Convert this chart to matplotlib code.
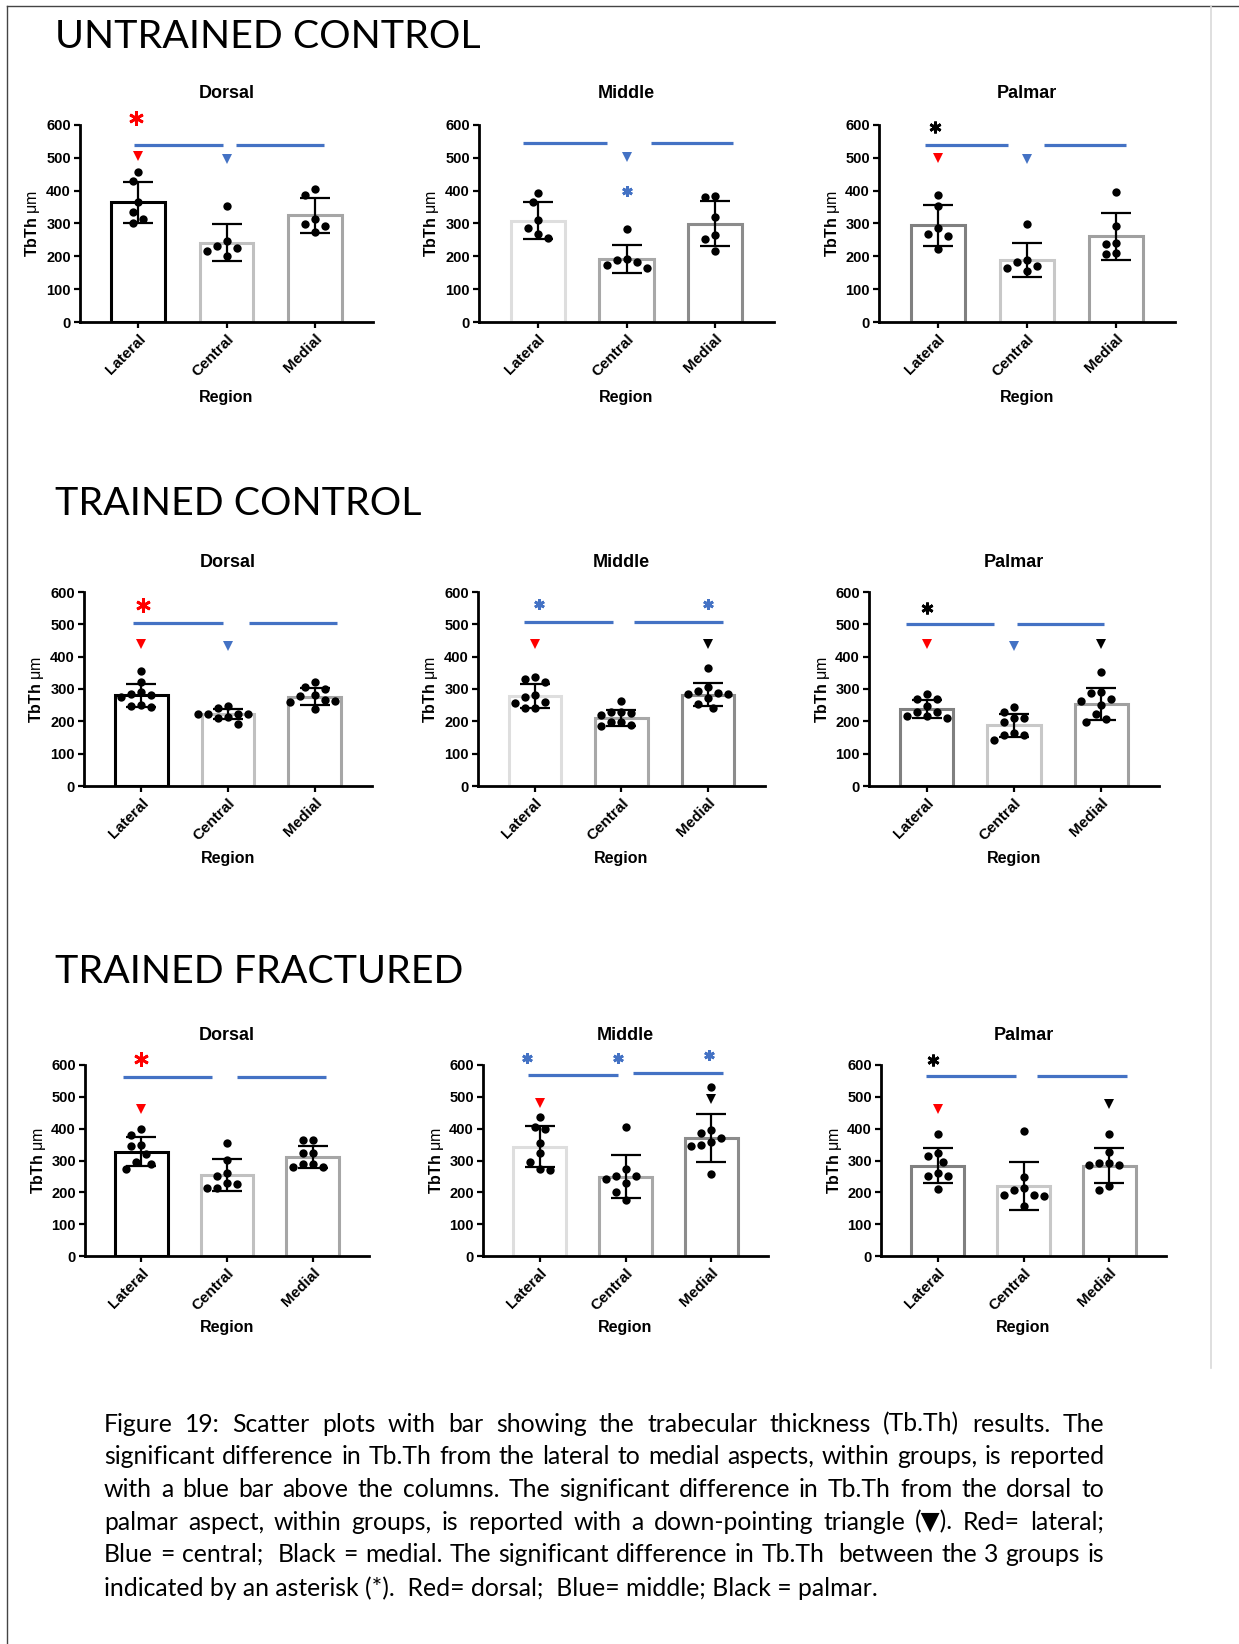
import matplotlib
matplotlib.use("Agg")
import matplotlib.pyplot as plt
from matplotlib.lines import Line2D
import numpy as np

# ── canvas ──
W, H, DPI = 1239, 1644, 100

plt.rcParams["font.family"] = ["Liberation Sans", "DejaVu Sans"]
plt.rcParams["font.weight"] = "bold"
plt.rcParams["mathtext.fontset"] = "custom"
plt.rcParams["mathtext.bf"] = "Liberation Sans:bold"
plt.rcParams["mathtext.rm"] = "Liberation Sans"

# ── data (TbTh, µm) ──
GROUPS  = ["UNTRAINED CONTROL", "TRAINED CONTROL", "TRAINED FRACTURED"]
ASPECTS = ["Dorsal", "Middle", "Palmar"]
REGIONS = ["Lateral", "Central", "Medial"]

# mean per aspect (rows) x region (cols)
UC_MEAN = [[364, 242, 325], [308, 193, 299], [294, 188, 261]]
UC_SD   = [[63, 55, 53], [56, 43, 69], [62, 52, 71]]
UC_PTS  = [
    [[457, 429, 364, 334, 313, 302], [354, 246, 232, 224, 217, 200], [405, 388, 315, 298, 292, 275]],
    [[393, 366, 310, 286, 267, 256], [284, 191, 188, 183, 175, 163], [383, 381, 320, 264, 252, 217]],
    [[387, 354, 285, 267, 262, 223], [298, 188, 182, 170, 165, 155], [397, 293, 242, 239, 211, 208]],
]

TC_MEAN = [[281, 222, 276], [279, 211, 282], [238, 188, 253]]
TC_SD   = [[36, 15, 27], [37, 25, 36], [27, 36, 50]]
TC_PTS  = [
    [[357, 321, 290, 284, 281, 274, 252, 248, 243], [248, 240, 224, 224, 222, 222, 212, 209, 193],
     [323, 307, 300, 281, 279, 266, 264, 260, 238]],
    [[336, 331, 323, 281, 274, 261, 257, 241, 240], [264, 230, 228, 225, 219, 199, 197, 189, 186],
     [365, 305, 295, 288, 283, 283, 271, 253, 241]],
    [[284, 269, 269, 248, 230, 228, 217, 217, 209], [245, 229, 211, 209, 198, 164, 159, 159, 143],
     [354, 292, 287, 270, 264, 250, 222, 206, 199]],
]

TF_MEAN = [[328, 254, 312], [343, 249, 371], [284, 220, 284]]
TF_SD   = [[45, 50, 35], [64, 67, 76], [55, 74, 56]]
TF_PTS  = [
    [[399, 380, 348, 345, 319, 296, 288, 272], [354, 301, 262, 252, 230, 226, 215, 214],
     [364, 364, 324, 322, 288, 288, 280, 280]],
    [[437, 406, 398, 354, 322, 296, 273, 270], [404, 272, 252, 252, 241, 228, 201, 175],
     [530, 395, 387, 371, 357, 350, 345, 257]],
    [[383, 325, 313, 296, 261, 252, 252, 209], [393, 249, 215, 208, 193, 191, 188, 157],
     [382, 327, 293, 291, 285, 285, 219, 207]],
]

MEANS = [UC_MEAN, TC_MEAN, TF_MEAN]
SDS   = [UC_SD, TC_SD, TF_SD]
PTS   = [UC_PTS, TC_PTS, TF_PTS]

CAPTION = [
    "Figure 19: Scatter plots with bar showing the trabecular thickness (Tb.Th) results. The",
    "significant difference in Tb.Th from the lateral to medial aspects, within groups, is reported",
    "with a blue bar above the columns. The significant difference in Tb.Th from the dorsal to",
    "palmar aspect, within groups, is reported with a down-pointing triangle (\u25BC). Red= lateral;",
    "Blue = central;  Black = medial. The significant difference in Tb.Th  between the 3 groups is",
    "indicated by an asterisk (*).  Red= dorsal;  Blue= middle; Black = palmar.",
]

# ── significance marks (x in category units, y in µm) ──
RED, BLUE, BLACK = "#ff0000", "#4472c4", "#000000"
SIG_LINES = [
    [[(-0.05, 0.96, 538), (1.11, 2.11, 538)], [(-0.16, 0.78, 545), (1.28, 2.20, 545)],
     [(-0.14, 0.79, 538), (1.19, 2.11, 538)]],
    [[(-0.09, 0.94, 504), (1.24, 2.26, 504)], [(-0.13, 0.90, 507), (1.14, 2.17, 507)],
     [(-0.24, 0.77, 501), (1.03, 2.03, 501)]],
    [[(-0.21, 0.83, 561), (1.12, 2.16, 561)], [(-0.13, 0.91, 569), (1.09, 2.13, 574)],
     [(-0.13, 0.91, 565), (1.16, 2.20, 565)]],
]
SIG_TRI = [
    [[(0, 505, RED), (1, 496, BLUE)], [(1, 503, BLUE)], [(0, 498, RED), (1, 496, BLUE)]],
    [[(0, 440, RED), (1, 433, BLUE)], [(0, 440, RED), (2, 440, BLACK)],
     [(0, 439, RED), (1, 434, BLUE), (2, 439, BLACK)]],
    [[(0, 462, RED)], [(0, 482, RED), (2, 492, BLACK)], [(0, 462, RED), (2, 479, BLACK)]],
]
SIG_AST = [
    [[(-0.03, 622, RED)], [(1.0, 399, BLUE)], [(-0.03, 595, BLACK)]],
    [[(0.02, 559, RED)], [(0.05, 562, BLUE), (2.0, 562, BLUE)], [(0.0, 550, BLACK)]],
    [[(0.0, 619, RED)], [(-0.15, 621, BLUE), (0.91, 621, BLUE), (1.97, 632, BLUE)], [(-0.05, 616, BLACK)]],
]
AST_SIZE = {RED: 10.5, BLUE: 7.5, BLACK: 8.5}

# bar outline colours per aspect (Lateral, Central, Medial)
EDGE = [["#000000", "#c0c0c0", "#a6a6a6"],
        ["#dedede", "#a8a8a8", "#8c8c8c"],
        ["#808080", "#c8c8c8", "#a0a0a0"]]

# ── layout in pixels ──
ROW_Y   = [(125, 322), (592, 786), (1065, 1256)]          # y of 600 and of 0
COL_X   = [[(80, 373), (479, 774), (879, 1175)],
           [(84, 372), (478, 765), (869, 1159)],
           [(85, 369), (483, 768), (881, 1166)]]
TITLE_Y  = [93, 562, 1035]
REGION_Y = [397, 858, 1327]
HEAD_Y   = [37, 504, 972]
XLIM = (-0.66, 2.66)


def fx(px):
    return px / W


def fy(py):
    return 1 - py / H


def swarm(vals, xpx, ypx, d=10.0, step=5.0):
    """simple beeswarm offsets (category units)"""
    vals = np.asarray(vals, float)
    out = np.zeros(len(vals))
    placed = []
    cands = [0.0] + [s * j * step for j in range(1, 12) for s in (-1, 1)]
    for i in np.argsort(-vals, kind="stable"):
        y = vals[i] * ypx
        for c in cands:
            if all((c - px) ** 2 + (y - py) ** 2 >= d * d for px, py in placed):
                break
        placed.append((c, y))
        out[i] = c / xpx
    return out


fig = plt.figure(figsize=(W / DPI, H / DPI), dpi=DPI)
fig.patch.set_facecolor("white")

# page frame
fig.add_artist(Line2D([fx(7), fx(7)], [fy(6), fy(H)], color="#444444", lw=1.0))
fig.add_artist(Line2D([fx(7), fx(W)], [fy(6), fy(6)], color="#444444", lw=1.0))
fig.add_artist(Line2D([fx(1211), fx(1211)], [fy(6), fy(1368)], color="#d9d9d9", lw=1.2))

for g in range(3):
    top, bot = ROW_Y[g]
    for a in range(3):
        left, right = COL_X[g][a]
        ax = fig.add_axes([fx(left), fy(bot), (right - left) / W, (bot - top) / H])
        xpx = (right - left) / (XLIM[1] - XLIM[0])
        ypx = (bot - top) / 600.0
        x = np.arange(3)

        ax.bar(x, MEANS[g][a], width=0.61, color="white", edgecolor=EDGE[a],
               linewidth=2.2, zorder=1)
        for r in range(3):
            offs = swarm(PTS[g][a][r], xpx, ypx)
            ax.plot(r + offs, PTS[g][a][r], "o", color="black", ms=6.0, mew=0,
                    zorder=3, clip_on=False)
        ax.errorbar(x, MEANS[g][a], yerr=SDS[g][a], fmt="none", ecolor="black",
                    elinewidth=1.6, capsize=10.5, capthick=1.6, zorder=4)

        for x0, x1, yv in SIG_LINES[g][a]:
            ax.plot([x0, x1], [yv, yv], color=BLUE, lw=2.3, solid_capstyle="butt",
                    clip_on=False, zorder=5)
        for xv, yv, c in SIG_TRI[g][a]:
            ax.plot(xv, yv, "v", color=c, ms=7.0, mew=0, clip_on=False, zorder=5)
        for xv, yv, c in SIG_AST[g][a]:
            ax.plot(xv, yv, marker=(6, 2, 0), color=c, ms=AST_SIZE[c], mew=2.0,
                    ls="none", clip_on=False, zorder=5)

        ax.set_xlim(*XLIM)
        ax.set_ylim(0, 600)
        ax.set_yticks(range(0, 601, 100))
        ax.set_xticks(x)
        ax.set_xticklabels(REGIONS, rotation=45, ha="right", va="top",
                           rotation_mode="anchor")
        for s in ("top", "right"):
            ax.spines[s].set_visible(False)
        for s in ("left", "bottom"):
            ax.spines[s].set_linewidth(2.0)
        ax.tick_params(axis="y", length=4, width=1.6, labelsize=10.5, pad=2.5)
        ax.tick_params(axis="x", length=4, width=1.6, labelsize=11, pad=3)
        ax.set_facecolor("none")

        cx = (left + right) / 2
        fig.text(fx(cx), fy(TITLE_Y[g]), ASPECTS[a], ha="center", va="center",
                 fontsize=13, fontweight="bold")
        fig.text(fx(cx), fy(REGION_Y[g]), "Region", ha="center", va="center",
                 fontsize=11.5, fontweight="bold")
        fig.text(fx(left - 47), fy((top + bot) / 2), r"$\mathbf{TbTh}$ μm",
                 rotation=90, ha="center", va="center", fontsize=11.5,
                 fontweight="normal")

# ── section headers (fit width to reference) ──
rend = fig.canvas.get_renderer()
heads = []
for g in range(3):
    heads.append(fig.text(fx(55), fy(HEAD_Y[g]), GROUPS[g], ha="left", va="center",
                          fontsize=30, fontweight="normal", family=["Lato", "DejaVu Sans"]))
wh = heads[0].get_window_extent(rend).width
for t in heads:
    t.set_fontsize(30 * 424 / wh)

# ── caption, justified ──
CAP_X0, CAP_X1 = 104, 1104
CAP_Y = [1424, 1456, 1489, 1522, 1554, 1588]
cap_family = ["Lato", "DejaVu Sans"]
probe = fig.text(0, 0, CAPTION[-1], fontsize=16, family=cap_family, fontweight="normal")
cap_fs = 16 * 777 / probe.get_window_extent(rend).width
probe.remove()

for i, line in enumerate(CAPTION):
    yy = fy(CAP_Y[i])
    if i == len(CAPTION) - 1:
        fig.text(fx(CAP_X0), yy, line, fontsize=cap_fs, family=cap_family,
                 fontweight="normal", ha="left", va="center")
        continue
    words = line.split(" ")
    arts = [fig.text(0, yy, w, fontsize=cap_fs, family=cap_family, fontweight="normal",
                     ha="left", va="center") for w in words]
    widths = [t.get_window_extent(rend).width if w else 0.0 for t, w in zip(arts, words)]
    gap = (CAP_X1 - CAP_X0 - sum(widths)) / (len(words) - 1)
    xpos = CAP_X0
    for t, wd in zip(arts, widths):
        t.set_x(fx(xpos))
        xpos += wd + gap

fig.savefig("out.png", dpi=DPI, facecolor="white")
